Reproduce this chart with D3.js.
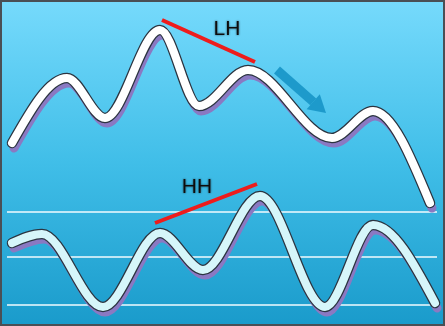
<!DOCTYPE html>
<html>
<head>
<meta charset="utf-8">
<script src="https://cdn.jsdelivr.net/npm/d3@7"></script>
<style>
  body { margin: 0; padding: 0; background: #fff; }
  svg { display: block; }
</style>
</head>
<body>
<div id="chart"></div>
<script>
let svgWidth = 445;
let svgHeight = 326;

// price path, x = time, y = price (top of picture = high)
let priceX = [12, 67, 105, 160, 199, 248, 332, 373, 430];
let priceY = [183, 248, 208, 296, 220, 256, 188, 215, 123];

// oscillator below
let oscX = [12, 42, 103, 160, 203, 260, 325, 373, 435];
let oscY = [83, 92, 19, 93, 56, 130, 19, 101, 23];

// oscillator reference levels
let levels = [114, 69, 21];

// trend lines [x1, y1, x2, y2]
let lhLine = [162, 306, 255, 264];
let hhLine = [155, 103, 257, 142];
let arrow = [277, 256, 326, 213];

// price scale: 0..326 maps bottom..top
let x = d3.scaleLinear().domain([0, 445]).range([0, svgWidth]);
let y = d3.scaleLinear().domain([0, 326]).range([svgHeight, 0]);

let svg = d3.select("#chart")
  .append("svg")
  .attr("width", svgWidth)
  .attr("height", svgHeight);

let defs = svg.append("defs");
let grad = defs.append("linearGradient")
  .attr("id", "bg")
  .attr("x1", 0).attr("y1", 0).attr("x2", 0).attr("y2", 1);
grad.append("stop").attr("offset", "0%").attr("stop-color", "#76dafc");
grad.append("stop").attr("offset", "50%").attr("stop-color", "#40bee8");
grad.append("stop").attr("offset", "100%").attr("stop-color", "#1a9bcb");

let glow = defs.append("filter").attr("id", "glow")
  .attr("x", "-30%").attr("y", "-30%").attr("width", "160%").attr("height", "160%");
glow.append("feGaussianBlur").attr("in", "SourceAlpha").attr("stdDeviation", 1.3).attr("result", "b");
glow.append("feComponentTransfer").attr("in", "b").attr("result", "b2")
  .append("feFuncA").attr("type", "linear").attr("slope", 0.6);
let merge = glow.append("feMerge");
merge.append("feMergeNode").attr("in", "b2");
merge.append("feMergeNode").attr("in", "SourceGraphic");

// background
svg.append("rect")
  .attr("x", 1).attr("y", 1)
  .attr("width", svgWidth - 2).attr("height", svgHeight - 2)
  .attr("fill", "url(#bg)")
  .attr("stroke", "#4a4f55")
  .attr("stroke-width", 2);

// level lines
svg.selectAll(".level")
  .data(levels)
  .enter()
  .append("line")
  .attr("class", "level")
  .attr("x1", x(7)).attr("x2", x(437))
  .attr("y1", d => y(d)).attr("y2", d => y(d))
  .attr("stroke", "#f2fbff")
  .attr("stroke-width", 1.3);

let line = d3.line()
  .x(d => x(d[0]))
  .y(d => y(d[1]))
  .curve(d3.curveMonotoneX);

function drawCurve(xs, ys, fill) {
  let pts = xs.map((v, i) => [v, ys[i]]);
  let g = svg.append("g");
  g.append("path")
    .attr("d", line(pts))
    .attr("transform", "translate(2,5)")
    .attr("fill", "none")
    .attr("stroke", "#8a79c2")
    .attr("stroke-width", 9)
    .attr("stroke-linecap", "round")
    .attr("stroke-linejoin", "round");
  g.append("path")
    .attr("d", line(pts))
    .attr("fill", "none")
    .attr("stroke", "#2b3440")
    .attr("stroke-width", 10.5)
    .attr("stroke-linecap", "round")
    .attr("stroke-linejoin", "round");
  g.append("path")
    .attr("d", line(pts))
    .attr("fill", "none")
    .attr("stroke", fill)
    .attr("stroke-width", 8)
    .attr("stroke-linecap", "round")
    .attr("stroke-linejoin", "round");
}

drawCurve(priceX, priceY, "#ffffff");
drawCurve(oscX, oscY, "#d6f6fa");

// red trend lines
[lhLine, hhLine].forEach(l => {
  svg.append("line")
    .attr("x1", x(l[0])).attr("y1", y(l[1]))
    .attr("x2", x(l[2])).attr("y2", y(l[3]))
    .attr("stroke", "#ee1c1c")
    .attr("stroke-width", 4);
});

// down arrow
let ax1 = x(arrow[0]), ay1 = y(arrow[1]), ax2 = x(arrow[2]), ay2 = y(arrow[3]);
let ang = Math.atan2(ay2 - ay1, ax2 - ax1);
let headLen = 17, headW = 10;
let bx = ax2 - headLen * Math.cos(ang), by = ay2 - headLen * Math.sin(ang);
svg.append("line")
  .attr("x1", ax1).attr("y1", ay1)
  .attr("x2", bx).attr("y2", by)
  .attr("stroke", "#1d9acb")
  .attr("stroke-width", 9);
let nx = -Math.sin(ang), ny = Math.cos(ang);
svg.append("path")
  .attr("d", `M${ax2},${ay2}L${bx + nx * headW},${by + ny * headW}L${bx - nx * headW},${by - ny * headW}Z`)
  .attr("fill", "#1d9acb");

// labels
svg.append("text")
  .attr("x", 227).attr("y", 35)
  .attr("text-anchor", "middle")
  .attr("font-family", "Liberation Sans, Arial, sans-serif")
  .attr("font-size", 21)
  .attr("fill", "#111")
  .attr("filter", "url(#glow)")
  .text("LH");

svg.append("text")
  .attr("x", 197).attr("y", 193)
  .attr("text-anchor", "middle")
  .attr("font-family", "Liberation Sans, Arial, sans-serif")
  .attr("font-size", 21)
  .attr("fill", "#111")
  .attr("filter", "url(#glow)")
  .text("HH");
</script>
</body>
</html>
